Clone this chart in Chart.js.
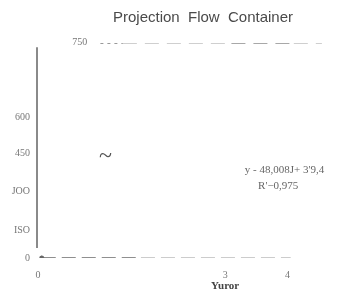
<!DOCTYPE html>
<html>
<head>
<meta charset="utf-8">
<script src="https://cdn.jsdelivr.net/npm/chart.js@4/dist/chart.umd.min.js"></script>
<style>
  html, body { margin: 0; padding: 0; background: #fff; }
  #wrap { width: 338px; height: 292px; }
</style>
</head>
<body>
<div id="wrap"><canvas id="chart" width="338" height="292"></canvas></div>
<script>
// chart data
const xTickValues = [0, 3, 4];
const yTickValues = [0, 98, 234, 366, 492];
const yTickLabels = ['0', 'ISO', 'JOO', '450', '600'];

const topX = [1.0, 1.36, 3.1, 4.1, 4.55];
const topY = [750, 750, 750, 750, 750];
const bottomX = [0.06, 1.65, 4.05];
const bottomY = [0, 0, 0];

const tildePoint = { x: 1.08, y: 352 };
const equationLines = ["y - 48,008J+ 3'9,4", "R'\u22120,975"];
const equationPos = [{ x: 3.95, y: 307 }, { x: 3.85, y: 251 }];
const topLabel = { text: '750', x: 0.79, y: 750 };
const titleText = 'Projection  Flow  Container';
const xTitle = 'Yuror';

const SERIF = '"Liberation Serif", "DejaVu Serif", serif';
const SANS = '"Liberation Sans", Arial, sans-serif';

const extras = {
    id: 'extras',
    afterDraw(chart) {
        const { ctx, scales: { x, y } } = chart;
        ctx.save();
        // y axis line (stops short of both ends)
        ctx.strokeStyle = '#8a8a8a';
        ctx.lineWidth = 2;
        ctx.beginPath();
        ctx.moveTo(x.left - 1, y.getPixelForValue(735));
        ctx.lineTo(x.left - 1, y.getPixelForValue(35));
        ctx.stroke();

        // title
        ctx.fillStyle = '#4a4a4a';
        ctx.font = '15px ' + SANS;
        ctx.textAlign = 'center';
        ctx.textBaseline = 'middle';
        ctx.fillText(titleText, 203, 18);

        // 750 label next to the top line
        ctx.fillStyle = '#777';
        ctx.font = '10px ' + SERIF;
        ctx.textAlign = 'right';
        ctx.fillText(topLabel.text, x.getPixelForValue(topLabel.x), y.getPixelForValue(topLabel.y) - 1);

        // tilde
        ctx.fillStyle = '#555';
        ctx.font = '24px ' + SERIF;
        ctx.textAlign = 'center';
        ctx.fillText('~', x.getPixelForValue(tildePoint.x), y.getPixelForValue(tildePoint.y));

        // regression text
        ctx.fillStyle = '#666';
        ctx.font = '11px ' + SERIF;
        equationLines.forEach((t, i) => {
            ctx.fillText(t, x.getPixelForValue(equationPos[i].x), y.getPixelForValue(equationPos[i].y));
        });

        // x axis title
        ctx.fillStyle = '#444';
        ctx.font = 'bold 11px ' + SERIF;
        ctx.fillText(xTitle, x.getPixelForValue(3), 286);
        ctx.restore();
    }
};

new Chart(document.getElementById('chart'), {
    type: 'line',
    data: {
        datasets: [
            {
                data: topX.map((v, i) => ({ x: v, y: topY[i] })),
                borderColor: '#c4c4c4',
                borderWidth: 2,
                pointRadius: 0,
                segment: {
                    borderDash: c => c.p0DataIndex === 0 ? [3, 4] : [14, 8],
                    borderColor: c => [ '#999', '#cfcfcf', '#a8a8a8', '#cfcfcf' ][c.p0DataIndex],
                },
            },
            {
                data: bottomX.map((v, i) => ({ x: v, y: bottomY[i] })),
                borderColor: '#999',
                borderWidth: 2,
                borderDash: [14, 6],
                pointStyle: 'star',
                pointRadius: [2.5, 0, 0],
                pointBorderColor: '#666',
                pointBorderWidth: 1.5,
                segment: {
                    borderColor: c => c.p0DataIndex === 0 ? '#8f8f8f' : '#cccccc',
                },
            },
        ]
    },
    options: {
        responsive: false,
        animation: false,
        layout: { padding: { top: 43, right: 13, left: 0, bottom: 0 } },
        plugins: { legend: { display: false }, title: { display: false }, tooltip: { enabled: false } },
        scales: {
            x: {
                type: 'linear',
                min: 0,
                max: 4.6,
                grid: { display: false, drawTicks: false },
                border: { display: false },
                afterBuildTicks: s => { s.ticks = xTickValues.map(v => ({ value: v })); },
                afterFit: s => { s.height = 34; },
                ticks: { padding: 11, color: '#777', font: { family: SERIF, size: 10 }, maxRotation: 0 },
            },
            y: {
                min: 0,
                max: 750,
                grid: { display: false, drawTicks: false },
                border: { display: false },
                afterBuildTicks: s => { s.ticks = yTickValues.map(v => ({ value: v })); },
                afterFit: s => { s.width = 38; },
                ticks: {
                    padding: 8,
                    color: '#777',
                    font: { family: SERIF, size: 10 },
                    callback: (v) => yTickLabels[yTickValues.indexOf(v)],
                },
            },
        },
    },
    plugins: [extras],
});
</script>
</body>
</html>
